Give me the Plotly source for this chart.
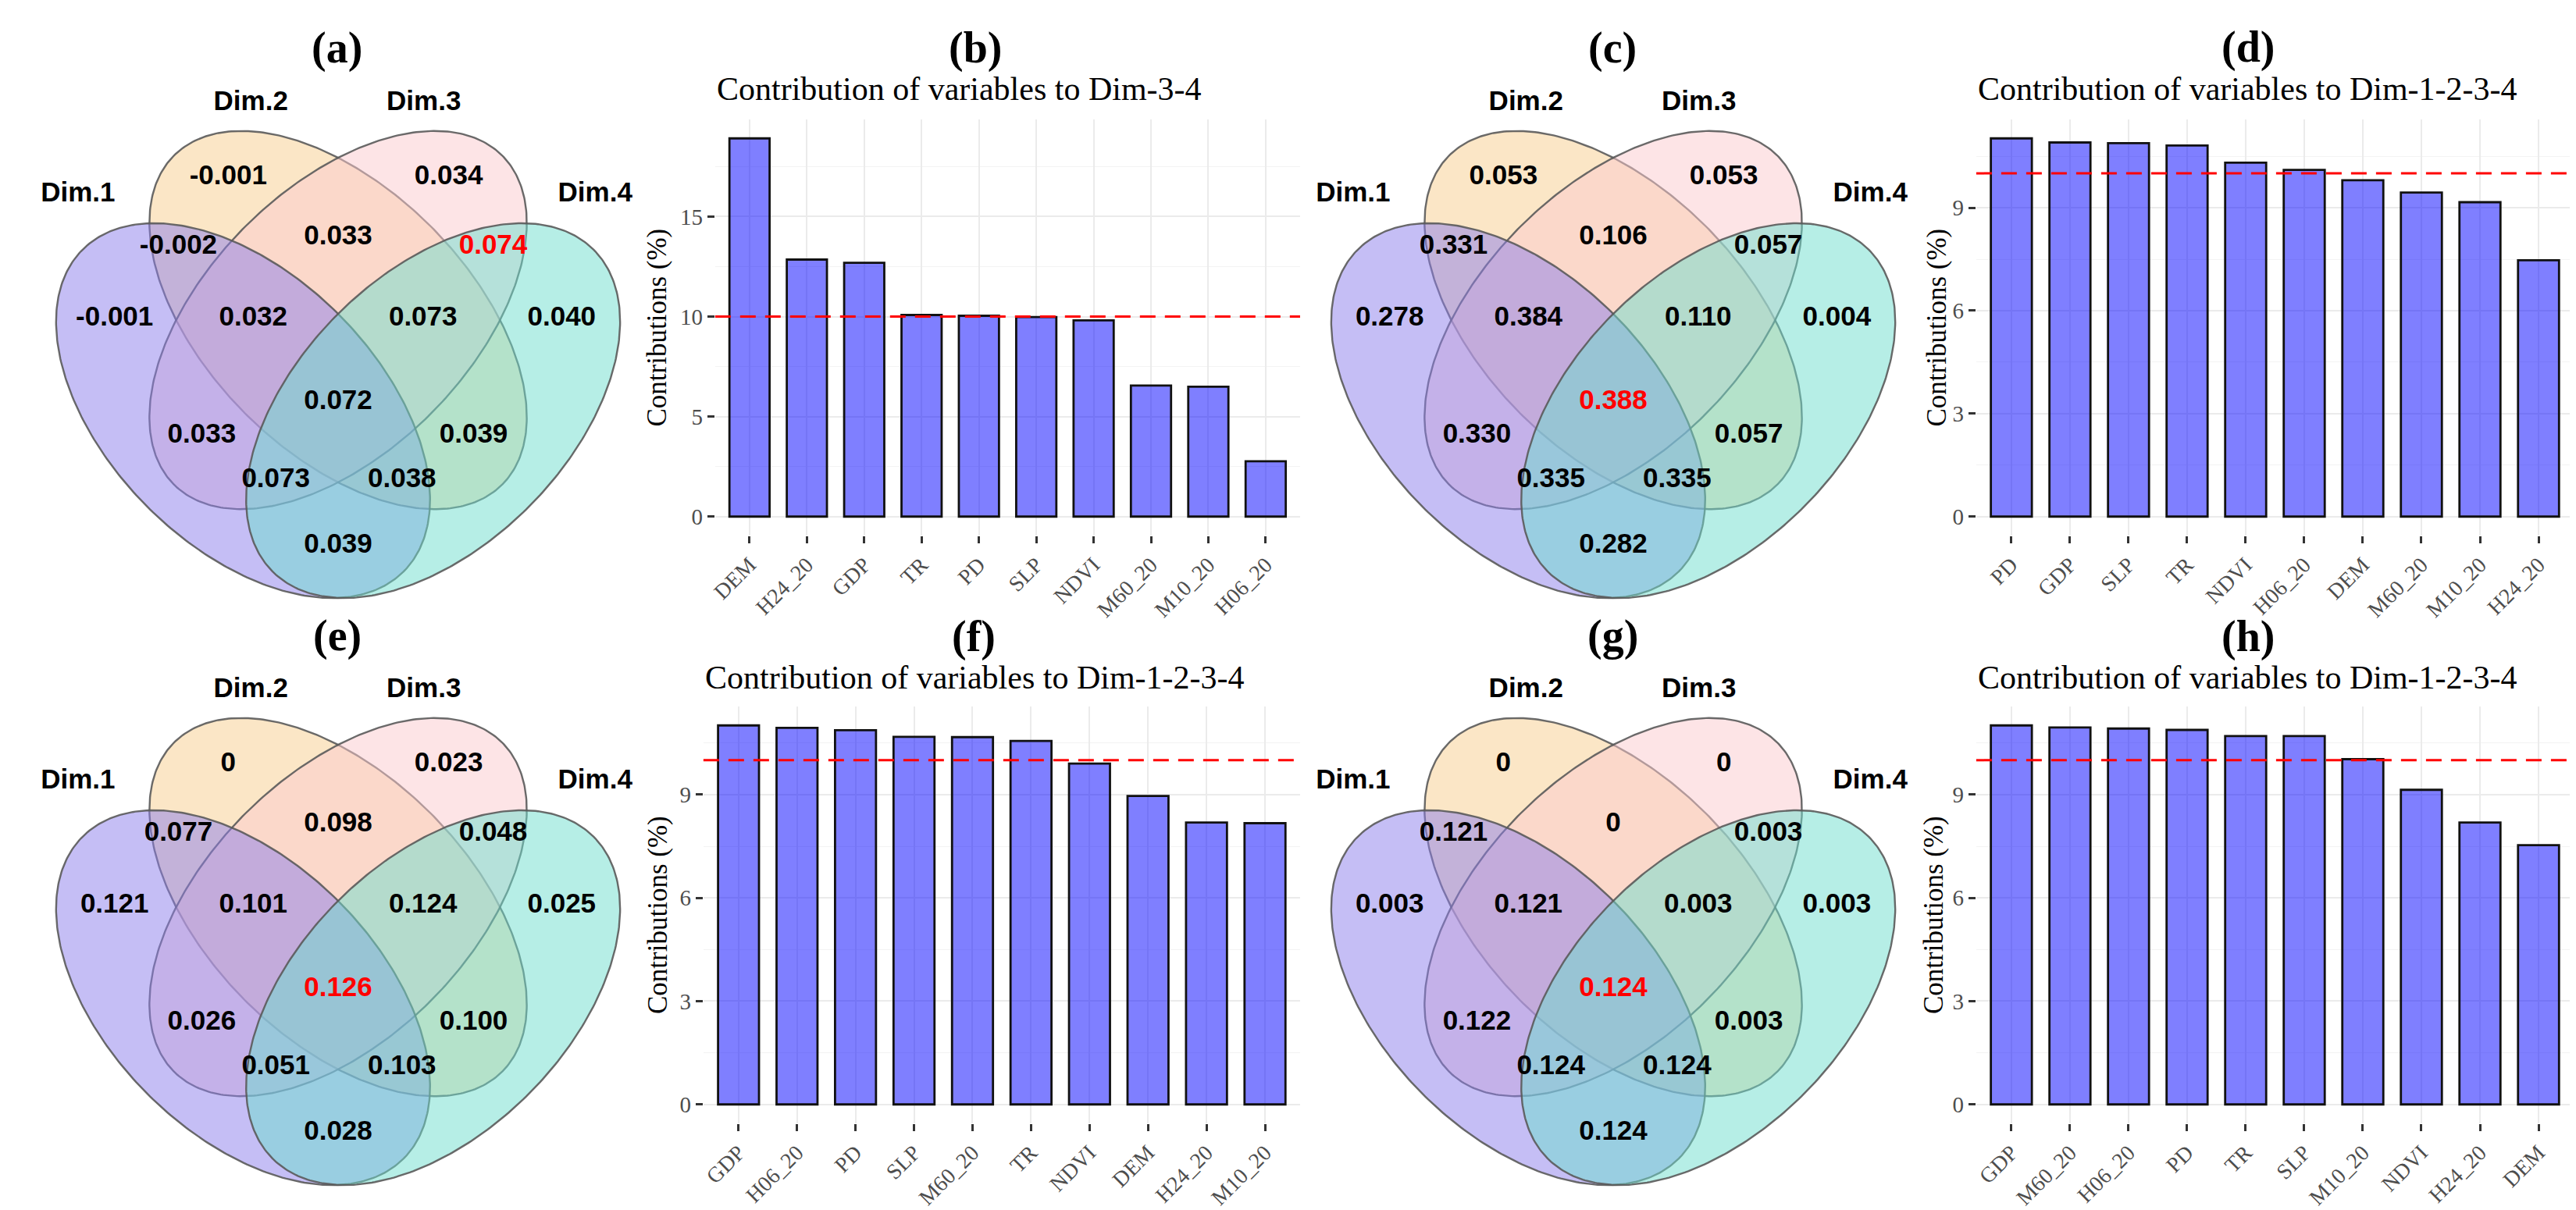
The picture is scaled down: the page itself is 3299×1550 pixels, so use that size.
import numpy as np
import plotly.graph_objects as go

W, H = 3299, 1550

# ---------------- data ----------------
regions = ["A", "B", "C", "D", "AB", "BC", "CD", "ABC", "BCD", "ABCD", "AC", "BD", "ACD", "ABD", "AD"]
set_names = ["Dim.1", "Dim.2", "Dim.3", "Dim.4"]

venn_a = [-0.001, -0.001, 0.034, 0.040, -0.002, 0.033, 0.074, 0.032, 0.073, 0.072, 0.033, 0.039, 0.073, 0.038, 0.039]
venn_c = [0.278, 0.053, 0.053, 0.004, 0.331, 0.106, 0.057, 0.384, 0.110, 0.388, 0.330, 0.057, 0.335, 0.335, 0.282]
venn_e = [0.121, 0, 0.023, 0.025, 0.077, 0.098, 0.048, 0.101, 0.124, 0.126, 0.026, 0.100, 0.051, 0.103, 0.028]
venn_g = [0.003, 0, 0, 0.003, 0.121, 0, 0.003, 0.121, 0.003, 0.124, 0.122, 0.003, 0.124, 0.124, 0.124]
venn_highlight = ["CD", "ABCD", "ABCD", "ABCD"]
venn_titles = ["(a)", "(c)", "(e)", "(g)"]

vars_b = ["DEM", "H24_20", "GDP", "TR", "PD", "SLP", "NDVI", "M60_20", "M10_20", "H06_20"]
contrib_b = [18.91, 12.85, 12.69, 10.08, 10.04, 9.98, 9.81, 6.55, 6.49, 2.77]
vars_d = ["PD", "GDP", "SLP", "TR", "NDVI", "H06_20", "DEM", "M60_20", "M10_20", "H24_20"]
contrib_d = [11.02, 10.90, 10.88, 10.81, 10.31, 10.10, 9.80, 9.44, 9.16, 7.47]
vars_f = ["GDP", "H06_20", "PD", "SLP", "M60_20", "TR", "NDVI", "DEM", "H24_20", "M10_20"]
contrib_f = [11.01, 10.94, 10.87, 10.68, 10.67, 10.56, 9.90, 8.96, 8.19, 8.17]
vars_h = ["GDP", "M60_20", "H06_20", "PD", "TR", "SLP", "M10_20", "NDVI", "H24_20", "DEM"]
contrib_h = [11.01, 10.95, 10.92, 10.88, 10.70, 10.70, 10.03, 9.14, 8.19, 7.53]
bar_titles = ["(b)", "(d)", "(f)", "(h)"]
bar_subtitles = ["Contribution of variables to Dim-3-4", "Contribution of variables to Dim-1-2-3-4",
                 "Contribution of variables to Dim-1-2-3-4", "Contribution of variables to Dim-1-2-3-4"]
expected_line = 10
y_dticks = [5, 3, 3, 3]

# ---------------- styling / layout constants ----------------
SERIF = "Liberation Serif, Times New Roman, serif"
SANS = "Liberation Sans, Arial, sans-serif"

# venn geometry in panel pixel coordinates (y downward)
ellipses = {  # cx, cy, a, b, direction of long axis (1 = down-right, -1 = down-left)
    "A": (296, 518, 291.5, 174, 1),
    "B": (418, 402, 298, 169, 1),
    "C": (418, 402, 298, 169, -1),
    "D": (540, 518, 291.5, 174, -1),
}
ell_fill = {"A": "rgba(139,125,235,0.5)", "B": "rgba(247,205,141,0.5)",
            "C": "rgba(251,201,205,0.5)", "D": "rgba(109,221,205,0.5)"}
draw_order = ["B", "C", "A", "D"]
label_pos = {
    "A": (131, 400), "B": (277, 219), "C": (560, 219), "D": (705, 400),
    "AB": (213, 308), "BC": (418, 296), "CD": (617, 308),
    "ABC": (309, 400), "BCD": (527, 400), "ABCD": (418, 507),
    "AC": (243, 550), "BD": (592, 550), "ACD": (338, 607), "ABD": (500, 607), "AD": (418, 691),
}
dim_pos = [(84, 241), (306, 124), (528, 124), (748, 241)]
venn_offsets = [(0, 0), (1637, 0), (0, 752), (1637, 752)]
VW, VH = 820, 780

bar_domains_px = [((902, 1653), (145, 678)), ((2521, 3288), (145, 678)),
                  ((887, 1653), (897, 1431)), ((2521, 3288), (897, 1431))]
bar_title_pos = [(1236, 54), (2870, 53), (1234, 807), (2870, 807)]
bar_sub_y = [106, 106, 860, 860]
ytitle_x = [828, 2470, 828, 2466]


def px2x(p):
    return p / W


def px2y(p):
    return 1 - p / H


def fmt(v):
    return "0" if v == 0 else f"{v:.3f}"


fig = go.Figure()
annotations = []
shapes = []
layout_axes = {}

t = np.linspace(0, 2 * np.pi, 361)
venn_data = [venn_a, venn_c, venn_e, venn_g]

for k in range(4):
    ax = k + 1
    xs = "x" if ax == 1 else f"x{ax}"
    ys = "y" if ax == 1 else f"y{ax}"
    ox, oy = venn_offsets[k]
    layout_axes["xaxis" if ax == 1 else f"xaxis{ax}"] = dict(
        domain=[px2x(ox), px2x(ox + VW)], range=[0, VW], visible=False, fixedrange=True, anchor=ys)
    layout_axes["yaxis" if ax == 1 else f"yaxis{ax}"] = dict(
        domain=[px2y(oy + VH), px2y(oy)], range=[VH, 0], visible=False, fixedrange=True, anchor=xs)
    for key in draw_order:
        cx, cy, a, b, d = ellipses[key]
        u = a * np.cos(t)
        v = b * np.sin(t)
        c = 1 / np.sqrt(2)
        ex = cx + c * (u * d - v)
        ey = cy + c * (u + v * d)
        fig.add_trace(go.Scatter(x=ex, y=ey, mode="lines", fill="toself", fillcolor=ell_fill[key],
                                 line=dict(color="rgba(90,90,90,0.9)", width=2.4),
                                 xaxis=xs, yaxis=ys, hoverinfo="skip", showlegend=False))
    vals = venn_data[k]
    fig.add_trace(go.Scatter(
        x=[label_pos[r][0] for r in regions], y=[label_pos[r][1] for r in regions],
        mode="text", text=[f"<b>{fmt(v)}</b>" for v in vals],
        textfont=dict(family=SANS, size=35,
                      color=["#FF0000" if r == venn_highlight[k] else "#000000" for r in regions]),
        xaxis=xs, yaxis=ys, hoverinfo="skip", showlegend=False))
    fig.add_trace(go.Scatter(
        x=[p[0] for p in dim_pos], y=[p[1] for p in dim_pos], mode="text",
        text=[f"<b>{s}</b>" for s in set_names],
        textfont=dict(family=SANS, size=35, color="#000000"),
        xaxis=xs, yaxis=ys, hoverinfo="skip", showlegend=False))
    annotations.append(dict(x=px2x(ox + 417), y=px2y(oy + 54), xref="paper", yref="paper",
                            text=f"<b>{venn_titles[k]}</b>", showarrow=False,
                            font=dict(family=SERIF, size=56, color="#000000"),
                            xanchor="center", yanchor="middle"))

bar_vars = [vars_b, vars_d, vars_f, vars_h]
bar_vals = [contrib_b, contrib_d, contrib_f, contrib_h]

for k in range(4):
    ax = k + 5
    xs, ys = f"x{ax}", f"y{ax}"
    (x0, x1), (y0, y1) = bar_domains_px[k]
    cats = bar_vars[k]
    vals = bar_vals[k]
    ymax = max(vals)
    dt = y_dticks[k]
    fig.add_trace(go.Bar(x=cats, y=vals, width=0.7,
                         marker=dict(color="rgba(0,0,255,0.5)", line=dict(color="#111111", width=2.8)),
                         xaxis=xs, yaxis=ys, hoverinfo="skip", showlegend=False))
    layout_axes[f"xaxis{ax}"] = dict(
        domain=[px2x(x0), px2x(x1)], anchor=ys, type="category", range=[-0.6, len(cats) - 0.4],
        showgrid=True, gridcolor="#EBEBEB", gridwidth=1.6, zeroline=False, showline=False,
        ticks="outside", ticklen=9, tickwidth=2.8, tickcolor="#333333", tickangle=-45,
        tickfont=dict(family=SERIF, size=28, color="#4D4D4D"), fixedrange=True)
    layout_axes[f"yaxis{ax}"] = dict(
        domain=[px2y(y1), px2y(y0)], anchor=xs, range=[-0.05 * ymax, 1.05 * ymax],
        tickmode="linear", tick0=0, dtick=dt, showgrid=True, gridcolor="#EBEBEB", gridwidth=1.6,
        minor=dict(dtick=dt / 2, tick0=0, showgrid=True, gridcolor="#F3F3F3", gridwidth=1),
        zeroline=False, showline=False, ticks="outside", ticklen=9, tickwidth=2.8, tickcolor="#333333",
        tickfont=dict(family=SERIF, size=29, color="#4D4D4D"), fixedrange=True)
    shapes.append(dict(type="line", xref=f"x{ax} domain", yref=ys, x0=0, x1=1,
                       y0=expected_line, y1=expected_line,
                       line=dict(color="#FF0000", width=3, dash="20px,12px"), layer="above"))
    tx, ty = bar_title_pos[k]
    annotations.append(dict(x=px2x(tx), y=px2y(ty), xref="paper", yref="paper",
                            text=f"<b>{bar_titles[k]}</b>", showarrow=False,
                            font=dict(family=SERIF, size=56, color="#000000"),
                            xanchor="center", yanchor="middle"))
    annotations.append(dict(x=px2x(x0), y=px2y(bar_sub_y[k]), xref="paper", yref="paper",
                            text=bar_subtitles[k], showarrow=False,
                            font=dict(family=SERIF, size=42, color="#000000"),
                            xanchor="left", yanchor="middle"))
    annotations.append(dict(x=px2x(ytitle_x[k]), y=px2y((y0 + y1) / 2), xref="paper", yref="paper",
                            text="Contributions (%)", showarrow=False, textangle=-90,
                            font=dict(family=SERIF, size=35, color="#000000"),
                            xanchor="center", yanchor="middle"))

fig.update_layout(
    width=W, height=H, margin=dict(l=0, r=0, t=0, b=0),
    paper_bgcolor="#FFFFFF", plot_bgcolor="rgba(0,0,0,0)",
    showlegend=False, annotations=annotations, shapes=shapes, bargap=0.3,
    **layout_axes)

fig.write_html("out.html")
